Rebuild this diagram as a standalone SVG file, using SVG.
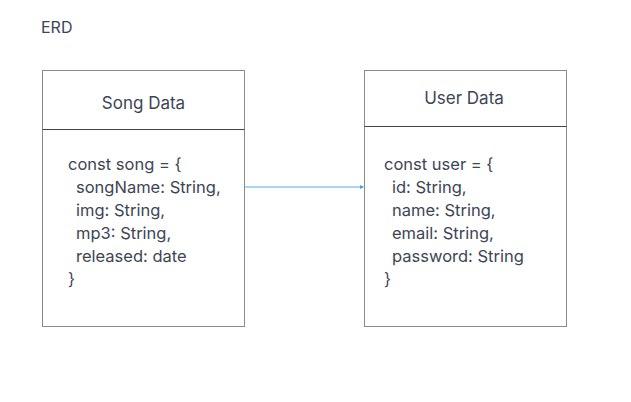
<svg xmlns="http://www.w3.org/2000/svg" width="631" height="402" viewBox="0 0 631 402">
<style>
text{font-family:Inter,"Liberation Sans",sans-serif;fill:#3d4555;font-size:16.5px}
.h{font-size:17px}
.t{font-size:16px}
.box{fill:#fff;stroke:#8a8a8a;stroke-width:1}
.div{stroke:#444;stroke-width:1}
.link{stroke:#90c6f6;stroke-width:1.5;fill:none}
</style>
<defs>
<marker id="ah" markerWidth="4" markerHeight="4" refX="3" refY="2" orient="auto" markerUnits="userSpaceOnUse">
<path d="M0,0 L4,2 L0,4 z" fill="#4a9be8"/>
</marker>
</defs>
<text class="t" x="41" y="33">ERD</text>
<g id="connectors">
<line class="link" x1="244" y1="187" x2="363" y2="187" marker-end="url(#ah)"/>
</g>
<g id="song">
<rect class="box" x="42.5" y="70.5" width="202" height="256"/>
<line class="div" x1="42.5" y1="129.5" x2="244.5" y2="129.5"/>
<text class="h" x="143.5" y="109" text-anchor="middle">Song Data</text>
<text x="68" y="170">const song = {</text>
<text x="76" y="193">songName: String,</text>
<text x="76" y="216">img: String,</text>
<text x="76" y="239">mp3: String,</text>
<text x="76" y="262">released: date</text>
<text x="68" y="285">}</text>
</g>
<g id="user">
<rect class="box" x="364.5" y="70.5" width="202" height="256"/>
<line class="div" x1="364.5" y1="126.5" x2="566.5" y2="126.5"/>
<text class="h" x="464" y="104" text-anchor="middle">User Data</text>
<text x="384" y="170">const user = {</text>
<text x="392" y="193">id: String,</text>
<text x="392" y="216">name: String,</text>
<text x="392" y="239">email: String,</text>
<text x="392" y="262">password: String</text>
<text x="384" y="285">}</text>
</g>
</svg>
